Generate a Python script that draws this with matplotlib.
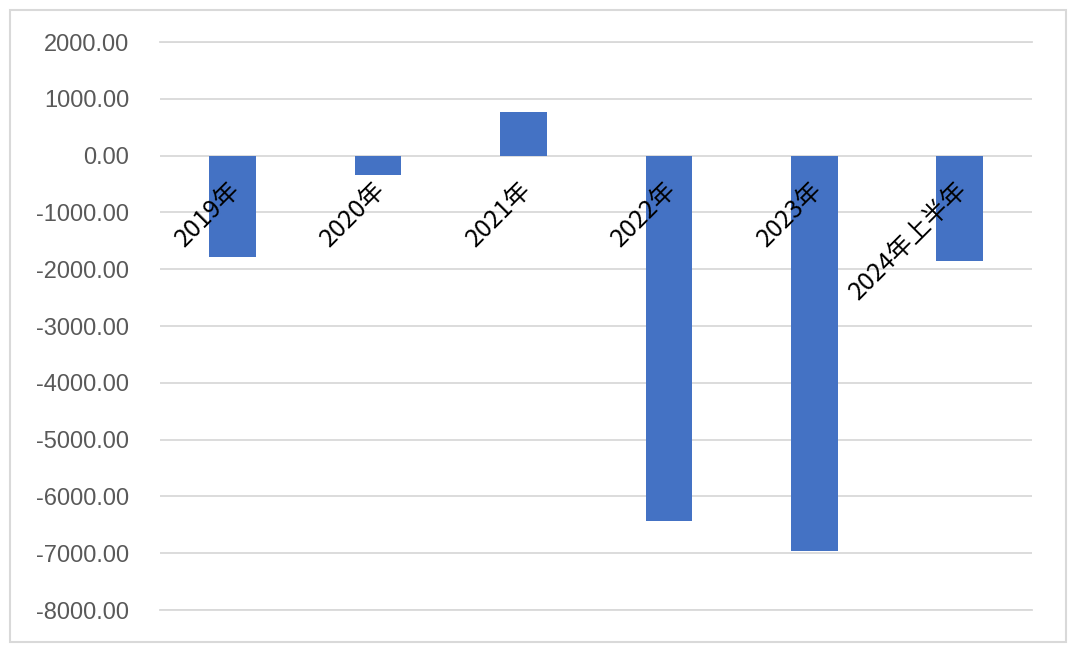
import matplotlib.pyplot as plt
from matplotlib.patches import Rectangle
from matplotlib.ticker import FuncFormatter

plt.rcParams['font.family'] = ['Liberation Sans', 'Noto Sans CJK SC', 'DejaVu Sans']
plt.rcParams['axes.unicode_minus'] = False

categories = ['2019年', '2020年', '2021年', '2022年', '2023年', '2024年上半年']
values = [-1787, -349, 771, -6430, -6968, -1857]
y_ticks = [2000, 1000, 0, -1000, -2000, -3000, -4000, -5000, -6000, -7000, -8000]

fig = plt.figure(figsize=(10.8, 6.57), dpi=100)
ax = fig.add_axes([0.148, 0.0715, 0.808, 0.8645])

# outer chart border
fig.patches.append(Rectangle((10 / 1080, 15 / 657), 1056 / 1080, 632 / 657,
                             transform=fig.transFigure, fill=False,
                             edgecolor='#d9d9d9', linewidth=1.5))

x = list(range(len(categories)))
ax.bar(x, values, width=0.32, color='#4472C4', zorder=3)

ax.set_xlim(-0.5, len(categories) - 0.5)
ax.set_ylim(-8000, 2000)
ax.set_yticks(y_ticks)
ax.yaxis.set_major_formatter(FuncFormatter(lambda v, p: f'{v:.2f}'))
ax.tick_params(axis='y', length=0, labelsize=17, labelcolor='#595959', pad=22)
ax.set_xticks([])
for s in ax.spines.values():
    s.set_visible(False)
ax.grid(axis='y', color='#d9d9d9', linewidth=1.3, zorder=0)
for y in (2000, -8000):
    ax.axhline(y, color='#d9d9d9', linewidth=1.3, zorder=0, clip_on=False)

for i, name in enumerate(categories):
    ax.annotate(name, xy=(i, 0), xytext=(4, -30), textcoords='offset pixels',
                rotation=45, rotation_mode='anchor', ha='right', va='center',
                fontsize=18, color='black',
                family=['Noto Sans CJK SC', 'DejaVu Sans'], zorder=4)

fig.savefig('out.png', dpi=100)
